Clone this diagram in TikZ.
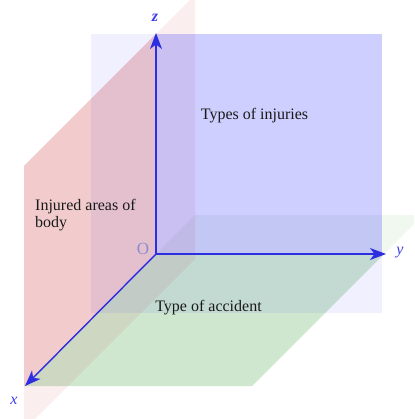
\documentclass[tikz,border=0pt]{standalone}
\usepackage{fontspec}
\setmainfont{Liberation Serif}
\usetikzlibrary{arrows.meta}
\definecolor{pblue}{RGB}{0,0,255}
\definecolor{pred}{RGB}{190,0,0}
\definecolor{pgreen}{RGB}{0,128,0}
\definecolor{axiscol}{RGB}{45,45,225}
\definecolor{labcol}{RGB}{60,60,235}
\definecolor{ocol}{RGB}{140,140,205}
\definecolor{txtcol}{RGB}{25,25,25}
\begin{document}
\begin{tikzpicture}[x=1pt,y=-1pt,
  axisline/.style={draw=axiscol, line width=1.4pt, -{Stealth[length=16pt,width=12pt,inset=4.5pt]}},
  axlabel/.style={text=labcol, inner sep=0pt, font=\fontsize{16}{17}\selectfont\itshape},
  planetext/.style={text=txtcol, inner sep=0pt, font=\fontsize{16}{17}\selectfont}
]
\useasboundingbox (0,0) rectangle (414,419);
\begin{scope}
\clip (0,0) rectangle (414,419);
% green plane (xy)
\fill[pgreen, opacity=0.06] (195,215) -- (24,386) -- (252,386) -- (423,215) -- cycle;
\fill[pgreen, opacity=0.138] (156,254) -- (24,386) -- (252,386) -- (384,254) -- cycle;
% red plane (xz)
\fill[pred, opacity=0.067] (195,-5) -- (24,166) -- (24,430) -- (195,259) -- cycle;
\fill[pred, opacity=0.143] (156,34) -- (24,166) -- (24,386) -- (156,254) -- cycle;
% blue plane (yz)
\fill[pblue, opacity=0.06] (91,34) rectangle (382,313);
\fill[pblue, opacity=0.14] (156,34) rectangle (382,254);
\end{scope}
% axes
\coordinate (O) at (156,254);
\coordinate (zt) at (156,33);
\coordinate (yt) at (386,254);
\coordinate (xt) at (25,386);
\draw[axisline] (O) -- (zt);
\draw[axisline] (O) -- (yt);
\draw[axisline] (O) -- (xt);
% labels
\node[axlabel, font=\fontsize{16}{17}\selectfont\bfseries\itshape] (zl) at (155,18) {z};
\node[axlabel] (yl) at (400,253) {y};
\node[axlabel] (xl) at (14,401) {x};
\node[text=ocol, inner sep=0pt, font=\fontsize{17}{18}\selectfont] (ol) at (143,249) {O};
% plane texts
\node[planetext, anchor=base] (t1) at (254.5,120) {Types of injuries};
\node[planetext, anchor=north west, align=left] (t2) at (35,199) {Injured areas of\\body};
\node[planetext, anchor=base] (t3) at (208.5,311) {Type of accident};
\end{tikzpicture}
\end{document}
